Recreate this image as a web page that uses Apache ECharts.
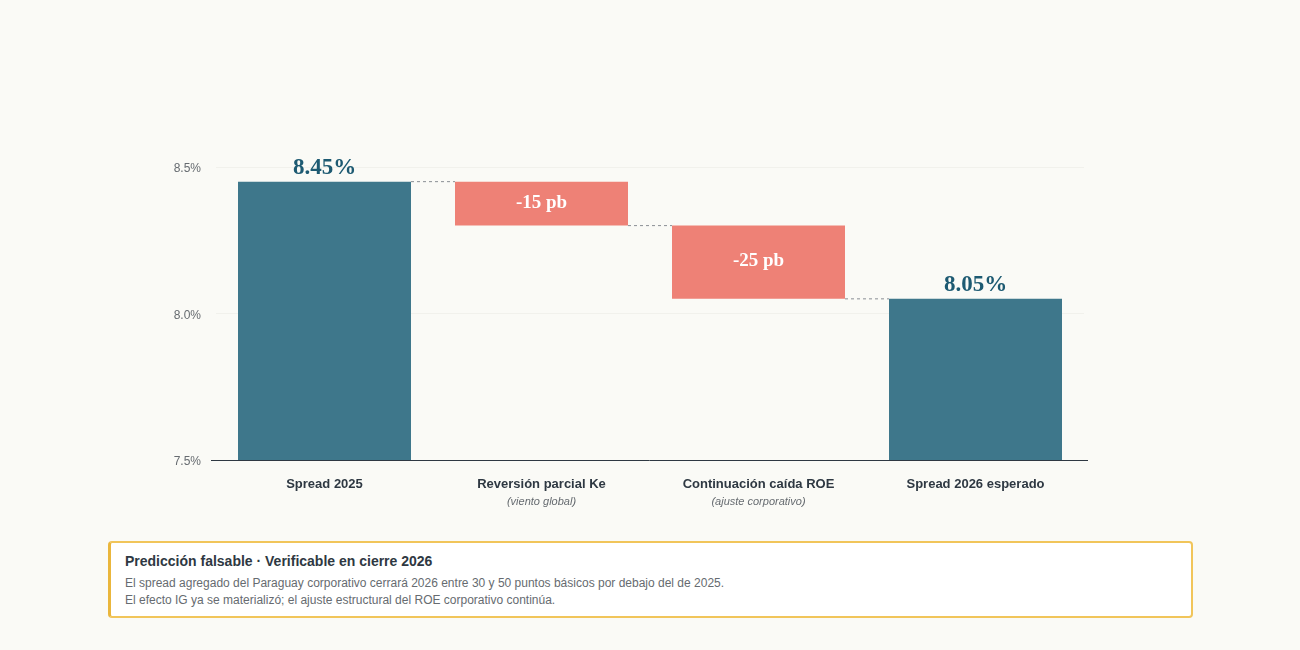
<!DOCTYPE html>
<html>
<head>
<meta charset="utf-8">
<script src="https://cdn.jsdelivr.net/npm/echarts@6/dist/echarts.min.js"></script>
<style>
  html, body { margin: 0; padding: 0; background: #fafaf6; }
  #wrap { position: relative; width: 1300px; height: 650px; background: #fafaf6; }
  #chart { position: absolute; left: 0; top: 0; width: 1300px; height: 650px; }
  #note {
    position: absolute; left: 108px; top: 541px; width: 1085px; height: 77px;
    box-sizing: border-box; background: #ffffff;
    border: 2px solid #f1c55a; border-left: 3px solid #eab63c; border-radius: 4px;
    font-family: "Liberation Sans", Arial, sans-serif; padding: 9px 0 0 14px;
  }
  #note .t { font-size: 14px; font-weight: bold; color: #2e3842; line-height: 18px; }
  #note .b { font-size: 12px; color: #666b70; line-height: 17px; margin-top: 5px; }
</style>
</head>
<body>
<div id="wrap">
  <div id="chart"></div>
  <div id="note">
    <div class="t">Predicción falsable · Verificable en cierre 2026</div>
    <div class="b">El spread agregado del Paraguay corporativo cerrará 2026 entre 30 y 50 puntos básicos por debajo del de 2025.<br>El efecto IG ya se materializó; el ajuste estructural del ROE corporativo continúa.</div>
  </div>
</div>
<script>
const categories = ['Spread 2025', 'Reversión parcial Ke', 'Continuación caída ROE', 'Spread 2026 esperado'];
const subtitles = ['', '(viento global)', '(ajuste corporativo)', ''];
const totals = [8.45, null, null, 8.05];
const changes = [null, -0.15, -0.25, null];
const changeLabels = ['', '-15 pb', '-25 pb', ''];
const yTicks = [7.5, 8.0, 8.5];

// waterfall helpers derived from the data
const levels = [];
let running = 0;
categories.forEach((c, i) => {
  if (totals[i] !== null) running = totals[i];
  else running = running + changes[i];
  levels.push(+running.toFixed(4));
});
const baseData = categories.map((c, i) => changes[i] !== null ? levels[i] : '-');
const deltaData = categories.map((c, i) => changes[i] !== null ? +Math.abs(changes[i]).toFixed(4) : '-');
const totalData = categories.map((c, i) => totals[i] !== null ? totals[i] : '-');
const connData = [];
for (let i = 0; i < categories.length - 1; i++) {
  connData.push([i, levels[i]]);
}

const BAR_W = 173;
const chart = echarts.init(document.getElementById('chart'));
chart.setOption({
  backgroundColor: 'transparent',
  animation: false,
  grid: { left: 216, right: 216, top: 167, bottom: 190 },
  xAxis: {
    type: 'category',
    data: categories,
    axisLine: { show: false },
    axisTick: { show: false },
    axisLabel: {
      margin: 15,
      interval: 0,
      formatter: function (v, i) {
        return subtitles[i] ? '{a|' + v + '}\n{b|' + subtitles[i] + '}' : '{a|' + v + '}';
      },
      rich: {
        a: { fontFamily: 'Liberation Sans, Arial, sans-serif', fontSize: 13, fontWeight: 'bold', color: '#2e3842', lineHeight: 18 },
        b: { fontFamily: 'Liberation Sans, Arial, sans-serif', fontSize: 11, fontStyle: 'italic', color: '#666b70', lineHeight: 18 }
      }
    }
  },
  yAxis: {
    type: 'value',
    min: yTicks[0],
    max: yTicks[yTicks.length - 1],
    interval: 0.5,
    axisLine: { show: false },
    axisTick: { show: false },
    splitLine: { lineStyle: { color: '#f1f1ec', width: 1 } },
    axisLabel: {
      margin: 15,
      formatter: v => '{a|' + v.toFixed(1) + '%}',
      rich: {
        a: { fontFamily: 'Liberation Sans, Arial, sans-serif', fontSize: 12, color: '#666b70', padding: [4, 0, 0, 0] }
      }
    }
  },
  series: [
    {
      type: 'bar', stack: 'w', barWidth: BAR_W, data: baseData,
      itemStyle: { color: 'transparent' }, silent: true
    },
    {
      type: 'bar', stack: 'w', barWidth: BAR_W, data: deltaData,
      itemStyle: { color: '#ee8176' },
      label: {
        show: true, position: 'inside', offset: [0, -1],
        formatter: p => changeLabels[p.dataIndex],
        fontFamily: 'Liberation Serif, Times New Roman, serif',
        fontSize: 19, fontWeight: 'bold', color: '#ffffff'
      }
    },
    {
      type: 'bar', stack: 'w', barWidth: BAR_W, data: totalData,
      itemStyle: { color: '#3e778b' },
      label: {
        show: true, position: 'top', distance: 2,
        formatter: p => p.value.toFixed(2) + '%',
        fontFamily: 'Liberation Serif, Times New Roman, serif',
        fontSize: 23, fontWeight: 'bold', color: '#1d5a72'
      }
    },
    {
      // x-axis baseline, drawn across the whole plot in data coordinates
      type: 'custom',
      data: [[0, yTicks[0]]],
      silent: true,
      z: 6,
      renderItem: function (params, api) {
        const p0 = api.coord([0, api.value(1)]);
        const cs = params.coordSys;
        return {
          type: 'line',
          shape: { x1: cs.x - 5, y1: p0[1] + 0.5, x2: cs.x + cs.width + 4, y2: p0[1] + 0.5 },
          style: { stroke: '#2e3842', lineWidth: 1 }
        };
      }
    },
    {
      type: 'custom',
      data: connData,
      silent: true,
      z: 5,
      renderItem: function (params, api) {
        const i = api.value(0);
        const y = api.value(1);
        const p1 = api.coord([i, y]);
        const p2 = api.coord([i + 1, y]);
        const half = BAR_W / 2;
        return {
          type: 'line',
          shape: { x1: p1[0] + half, y1: p1[1], x2: p2[0] - half, y2: p2[1] },
          style: { stroke: '#8a8f94', lineWidth: 1, lineDash: [3, 3] }
        };
      }
    }
  ]
});
</script>
</body>
</html>
